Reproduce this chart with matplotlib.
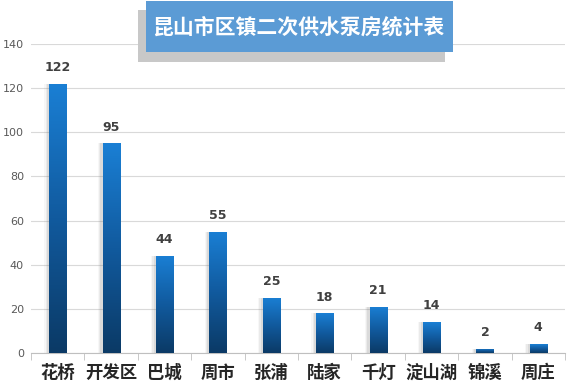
import numpy as np
import matplotlib
matplotlib.use("Agg")
import matplotlib.pyplot as plt
from matplotlib.colors import LinearSegmentedColormap
from matplotlib.patches import Rectangle

plt.rcParams['font.family'] = ['Noto Sans CJK SC', 'DejaVu Sans']

towns = ["花桥", "开发区", "巴城", "周市", "张浦", "陆家", "千灯", "淀山湖", "锦溪", "周庄"]
counts = [122, 95, 44, 55, 25, 18, 21, 14, 2, 4]
title = "昆山市区镇二次供水泵房统计表"
yticks = [0, 20, 40, 60, 80, 100, 120, 140]

fig = plt.figure(figsize=(5.68, 3.92), dpi=100)
ax = fig.add_axes([31/568, 39/392, 534/568, 309/392])

x = np.arange(len(towns))
w = 0.32

# soft shadow on the left of each bar
for dx, a in [(0.09, 0.06), (0.065, 0.10), (0.04, 0.15)]:
    ax.bar(x - dx, counts, width=w, color='#7f7f7f', alpha=a, linewidth=0, zorder=2)

bars = ax.bar(x, counts, width=w, color='none', linewidth=0, zorder=3)
cmap = LinearSegmentedColormap.from_list('b', ['#0b3a66', '#115a9e', '#1a7fd4'])
grad = np.linspace(0, 1, 100).reshape(-1, 1)
for b in bars:
    bx, by, bw, bh = b.get_x(), b.get_y(), b.get_width(), b.get_height()
    im = ax.imshow(grad, cmap=cmap, origin='lower', aspect='auto',
                   extent=[bx, bx + bw, by, by + bh], zorder=3)
    im.set_clip_path(b)
    ax.annotate(str(int(bh)), (bx + bw / 2, bh), xytext=(0, 7), textcoords='offset points',
                ha='center', va='bottom', fontsize=9, fontweight='bold', color='#404040',
                family='DejaVu Sans')

ax.set_xlim(-0.5, len(towns) - 0.5)
ax.set_ylim(0, 140)
ax.set_yticks(yticks)
ax.tick_params(axis='y', length=0, pad=5, labelsize=8, labelcolor='#595959')
for t in ax.get_yticklabels():
    t.set_family('DejaVu Sans')
ax.yaxis.grid(True, color='#d9d9d9', linewidth=0.8)
ax.set_axisbelow(True)

ax.set_xticks(x)
ax.set_xticklabels(towns, fontsize=12.5, fontweight='bold', color='#262626')
ax.tick_params(axis='x', which='major', length=0, pad=8)
ax.set_xticks(np.arange(-0.5, len(towns)), minor=True)
ax.tick_params(axis='x', which='minor', length=5, color='#bfbfbf', direction='out')

for s in ['top', 'right', 'left']:
    ax.spines[s].set_visible(False)
ax.spines['bottom'].set_color('#bfbfbf')

# title box with shadow
fig.patches.append(Rectangle((138/568, 1 - 62/392), 307/568, 52/392, transform=fig.transFigure,
                             facecolor='#c8c8c8', edgecolor='none', zorder=5))
fig.patches.append(Rectangle((146/568, 1 - 52/392), 307/568, 51/392, transform=fig.transFigure,
                             facecolor='#5b9bd5', edgecolor='none', zorder=6))
fig.text(298/568, 1 - 27/392, title, ha='center', va='center', fontsize=15,
         fontweight='bold', color='white', zorder=7)

fig.savefig("out.png", dpi=100)
